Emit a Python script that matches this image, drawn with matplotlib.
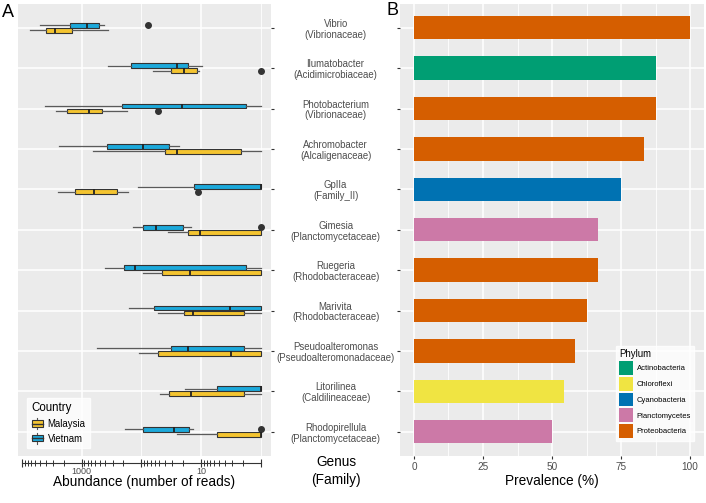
import matplotlib
matplotlib.use('Agg')
import matplotlib.pyplot as plt
import numpy as np
from matplotlib.patches import Patch, Rectangle
from matplotlib.lines import Line2D
from matplotlib.legend_handler import HandlerBase
from matplotlib.ticker import FixedLocator, FixedFormatter, NullFormatter

plt.rcParams['font.family'] = ['Liberation Sans', 'DejaVu Sans']

# genus (family) labels, top to bottom
genera = ['Vibrio\n(Vibrionaceae)', 'Ilumatobacter\n(Acidimicrobiaceae)',
          'Photobacterium\n(Vibrionaceae)', 'Achromobacter\n(Alcaligenaceae)',
          'GpIIa\n(Family_II)', 'Gimesia\n(Planctomycetaceae)',
          'Ruegeria\n(Rhodobacteraceae)', 'Marivita\n(Rhodobacteraceae)',
          'Pseudoalteromonas\n(Pseudoalteromonadaceae)', 'Litorilinea\n(Caldilineaceae)',
          'Rhodopirellula\n(Planctomycetaceae)']
phylum = ['Proteobacteria', 'Actinobacteria', 'Proteobacteria', 'Proteobacteria',
          'Cyanobacteria', 'Planctomycetes', 'Proteobacteria', 'Proteobacteria',
          'Proteobacteria', 'Chloroflexi', 'Planctomycetes']
prevalence = [100, 87.5, 87.5, 83.3, 75, 66.7, 66.7, 62.5, 58.3, 54.2, 50]

# abundance box stats (number of reads) - Vietnam
vn_whislo = [423, 9.6, 1, 23.3, 1, 14.7, 1, 1, 1, 1, 13.6]
vn_q1 = [513, 16.5, 1.75, 34.3, 1, 20, 1.75, 1, 1.9, 1, 15.8]
vn_med = [815, 25, 21, 94, 1, 57, 128, 3.25, 16.5, 1, 28]
vn_q3 = [1570, 149, 211, 376, 13.1, 94, 195, 61, 32, 5.4, 94]
vn_whishi = [5000, 362, 4130, 2400, 114, 138, 406, 161, 554, 18.5, 188]
vn_fliers = [[77], [], [], [], [], [1], [], [], [], [], [1]]

# Malaysia
my_whislo = [362, 10.8, 174, 1, 167, 1, 1, 1, 1, 1, 1]
my_q1 = [1455, 11.6, 456, 2.1, 256, 1, 1, 1.9, 1, 1.9, 1]
my_med = [2800, 19, 755, 25, 622, 10.4, 15.2, 13.6, 3.1, 14.7, 1]
my_q3 = [3970, 32, 1765, 40, 1295, 16.5, 45, 19, 52.5, 34, 5.4]
my_whishi = [7370, 64, 2700, 646, 2500, 36, 94, 52.5, 109, 48.5, 25]
my_fliers = [[], [1], [52], [], [11.2], [], [], [], [], [], []]

phylum_colors = {'Actinobacteria': '#009E73', 'Chloroflexi': '#F0E442',
                 'Cyanobacteria': '#0072B2', 'Planctomycetes': '#CC79A7',
                 'Proteobacteria': '#D55E00'}
vn_color = '#1CA9DB'
my_color = '#F4C430'
panel_bg = '#EBEBEB'
txt_gray = '#4D4D4D'


class BoxHandler(HandlerBase):
    def create_artists(self, legend, orig_handle, xdescent, ydescent,
                       width, height, fontsize, trans):
        x0, y0 = -xdescent, -ydescent
        c = orig_handle.get_facecolor()
        wh = Line2D([x0 + width / 2] * 2, [y0, y0 + height], color='#555555',
                    lw=0.8, transform=trans)
        box = Rectangle((x0 + width * 0.08, y0 + height * 0.2), width * 0.84, height * 0.6,
                        facecolor=c, edgecolor='#333333', lw=0.8, transform=trans)
        med = Line2D([x0 + width * 0.08, x0 + width * 0.92], [y0 + height / 2] * 2,
                     color='#333333', lw=1.0, transform=trans)
        return [wh, box, med]


def stats(lo, q1, med, q3, hi, fl):
    return [dict(whislo=lo[i], q1=q1[i], med=med[i], q3=q3[i], whishi=hi[i],
                 fliers=fl[i]) for i in range(len(lo))]


fig = plt.figure(figsize=(7.06, 5.03), dpi=100)
W, H = 706.0, 503.0
axA = fig.add_axes([18 / W, 1 - 456 / H, 253 / W, 452.5 / H])
axB = fig.add_axes([400.2 / W, 1 - 456 / H, 303.6 / W, 452.5 / H])

pos = np.arange(len(genera))

# ---- panel A: boxplots ----
axA.set_facecolor(panel_bg)
common = dict(orientation='horizontal', widths=0.12, patch_artist=True, showcaps=False,
              whiskerprops=dict(color='#5a5a5a', lw=0.9),
              medianprops=dict(color='#222222', lw=1.3),
              flierprops=dict(marker='o', markersize=4, markerfacecolor='#333333',
                              markeredgecolor='#333333'))
bv = axA.bxp(stats(vn_whislo, vn_q1, vn_med, vn_q3, vn_whishi, vn_fliers),
             positions=pos - 0.062, boxprops=dict(facecolor=vn_color, edgecolor='#333333', lw=0.8),
             **common)
bm = axA.bxp(stats(my_whislo, my_q1, my_med, my_q3, my_whishi, my_fliers),
             positions=pos + 0.062, boxprops=dict(facecolor=my_color, edgecolor='#333333', lw=0.8),
             **common)
axA.set_xscale('log')
axA.set_xlim(10 ** 4.07, 10 ** -0.176)
axA.set_ylim(10.6, -0.6)
for v in [1000, 10]:
    axA.axvline(v, color='white', lw=1.1, zorder=0)
for v in [100, 1]:
    axA.axvline(v, color='white', lw=0.6, zorder=0)
for p in pos:
    axA.axhline(p, color='white', lw=1.1, zorder=0)
axA.set_axisbelow(True)

axA.yaxis.tick_right()
axA.set_yticks(pos)
axA.tick_params(axis='y', length=2.5, color='#333333', labelright=False, labelleft=False)
for s in ['top', 'left', 'right']:
    axA.spines[s].set_visible(False)
axA.spines['bottom'].set_position(('outward', 5))
axA.spines['bottom'].set_bounds(1, 1e4)
axA.spines['bottom'].set_color('#333333')
axA.spines['bottom'].set_linewidth(0.8)
axA.xaxis.set_major_locator(FixedLocator([1e4, 1e3, 1e2, 1e1, 1]))
axA.xaxis.set_major_formatter(FixedFormatter(['', '1000', '', '10', '']))
axA.xaxis.set_minor_locator(FixedLocator([k * 10 ** e for e in range(4) for k in range(2, 10)]))
axA.xaxis.set_minor_formatter(NullFormatter())
axA.tick_params(axis='x', which='major', direction='inout', length=6, width=0.8,
                color='#333333', labelsize=6.5, labelcolor=txt_gray, pad=0)
axA.tick_params(axis='x', which='minor', direction='inout', length=5, width=0.7,
                color='#333333')
axA.set_xlabel('Abundance (number of reads)', fontsize=9.8, labelpad=-1)

legA = axA.legend([Patch(facecolor=my_color), Patch(facecolor=vn_color)],
                  ['Malaysia', 'Vietnam'], title='Country', loc='lower left',
                  bbox_to_anchor=(0.035, 0.018), borderaxespad=0, frameon=True,
                  fontsize=6.9, title_fontsize=8.3, alignment='left',
                  handler_map={Patch: BoxHandler()}, handlelength=1.3, handleheight=1.3,
                  handletextpad=0.4, labelspacing=0.45, borderpad=0.45, fancybox=False)
legA.get_frame().set_edgecolor('white')
legA.get_frame().set_facecolor('white')

# ---- panel B: prevalence bars ----
axB.set_facecolor(panel_bg)
axB.barh(pos, prevalence, height=0.58, color=[phylum_colors[p] for p in phylum], zorder=3)
axB.set_xlim(-5, 105)
axB.set_ylim(10.6, -0.6)
axB.set_xticks([0, 25, 50, 75, 100])
axB.set_xticks([12.5, 37.5, 62.5, 87.5], minor=True)
axB.grid(which='major', color='white', lw=1.1)
axB.grid(which='minor', axis='x', color='white', lw=0.6)
axB.set_axisbelow(True)
for s in axB.spines.values():
    s.set_visible(False)
axB.set_yticks(pos)
axB.set_yticklabels(genera, ha='center', linespacing=1.1)
axB.tick_params(axis='y', length=2.5, color='#333333', labelsize=6.9,
                labelcolor=txt_gray, pad=44)
axB.tick_params(axis='x', which='major', length=2.5, color='#333333', labelsize=7.2,
                labelcolor=txt_gray, pad=2)
axB.tick_params(axis='x', which='minor', length=0)
axB.set_xlabel('Prevalence (%)', fontsize=9.8, labelpad=1)

order = sorted(phylum_colors)
legB = axB.legend([Patch(facecolor=phylum_colors[p]) for p in order], order, title='Phylum',
                  loc='lower left', bbox_to_anchor=(0.711, 0.033), borderaxespad=0,
                  fontsize=5.5, title_fontsize=6.9, alignment='left', handlelength=1.82,
                  handleheight=2.42, handletextpad=0.5, labelspacing=0.25, borderpad=0.4,
                  fancybox=False)
legB.get_frame().set_edgecolor('white')
legB.get_frame().set_facecolor('white')
legB.set_zorder(5)

fig.text(336 / W, 1 - 471 / H, 'Genus\n(Family)', ha='center', va='center',
         fontsize=9.8, linespacing=1.3)
fig.text(2 / W, 1 - 4 / H, 'A', ha='left', va='top', fontsize=13)
fig.text(387 / W, 1 - 2 / H, 'B', ha='left', va='top', fontsize=13)

plt.savefig('out.png', dpi=100)
